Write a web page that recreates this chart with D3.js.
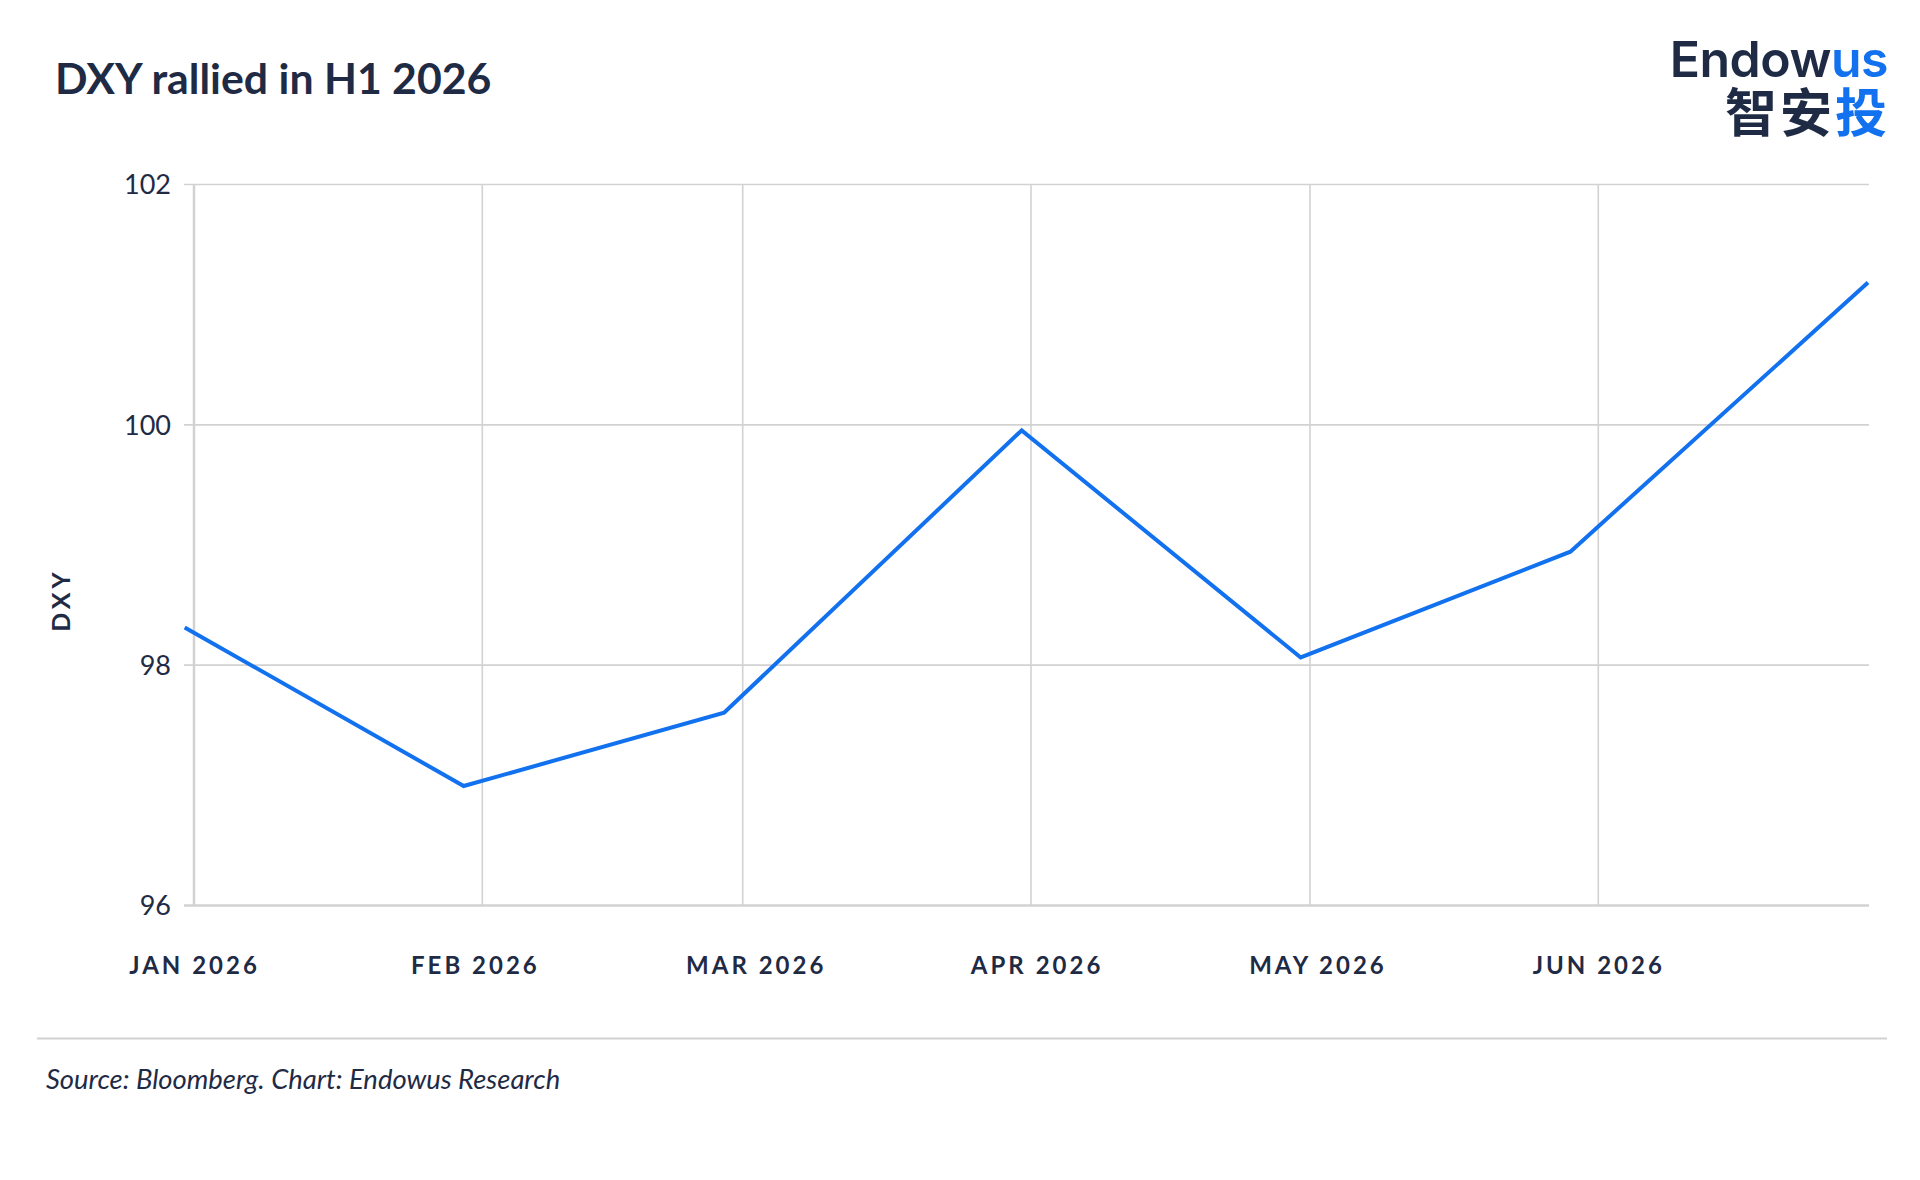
<!DOCTYPE html>
<html>
<head>
<meta charset="utf-8">
<script src="https://cdn.jsdelivr.net/npm/d3@7"></script>
<style>
  body { margin: 0; background: #fff; }
  svg text { fill: #1f2b45; }
</style>
</head>
<body>
<svg id="chart" width="1920" height="1180"></svg>
<script>
// month-end DXY closes
var dates = ["2025-12-31", "2026-01-30", "2026-02-27", "2026-03-31", "2026-04-30", "2026-05-29", "2026-06-30"];
var dxy = [98.31, 96.99, 97.60, 99.95, 98.06, 98.94, 101.18];

var monthLabels = ["JAN 2026", "FEB 2026", "MAR 2026", "APR 2026", "MAY 2026", "JUN 2026"];
var yTicks = [96, 98, 100, 102];
var xDomain = ["2026-01-01", "2026-06-30"];

var parse = d3.utcParse("%Y-%m-%d");
var font = "Lato, 'Noto Sans', sans-serif";
var ink = "#1f2b45";
var blue = "#1271ee";
var grid = "#d2d2d2";

var plot = { left: 194, right: 1868, top: 184, bottom: 905 };

var svg = d3.select("#chart");

var x = d3.scaleUtc()
    .domain(xDomain.map(parse))
    .range([plot.left, plot.right]);

var y = d3.scaleLinear()
    .domain([d3.min(yTicks), d3.max(yTicks)])
    .range([plot.bottom, plot.top]);

// labels are spread evenly between Jan 1 and Jun 1
var xLabel = d3.scalePoint()
    .domain(monthLabels)
    .range([x(parse("2026-01-01")), x(parse("2026-06-01"))]);

// title
svg.append("text")
    .attr("x", 55)
    .attr("y", 94)
    .attr("font-family", font)
    .attr("font-weight", 700)
    .attr("font-size", 42.8)
    .text("DXY rallied in H1 2026");

// logo
var logo = svg.append("g");
var word = logo.append("text")
    .attr("x", 1888)
    .attr("y", 77)
    .attr("text-anchor", "end")
    .attr("font-family", "Inter, Lato, sans-serif")
    .attr("font-weight", 600)
    .attr("font-size", 50)
    .attr("letter-spacing", -0.5)
    .text("Endow");
word.append("tspan").attr("fill", blue).text("us");

var cjk = logo.append("text")
    .attr("x", 1890)
    .attr("y", 132)
    .attr("text-anchor", "end")
    .attr("font-family", "'Noto Sans CJK SC', sans-serif")
    .attr("font-weight", 700)
    .attr("font-size", 52)
    .attr("letter-spacing", 3)
    .text("智安");
cjk.append("tspan").attr("fill", blue).text("投");

// horizontal grid + y labels
var yAxis = svg.append("g")
    .attr("transform", "translate(" + (plot.left - 10) + ",0)")
    .call(d3.axisLeft(y)
        .tickValues(yTicks)
        .tickFormat(d3.format("d"))
        .tickSize(-(plot.right + 1 - (plot.left - 10)))
        .tickPadding(13));

yAxis.select(".domain").remove();
yAxis.selectAll(".tick line")
    .attr("stroke", grid)
    .attr("stroke-width", function (d) { return d === 96 ? 2.5 : 1.6; });
yAxis.selectAll(".tick text")
    .attr("font-family", font)
    .attr("font-size", 27)
    .attr("fill", ink)
    .attr("dy", "0.36em");

// vertical grid at month starts
var monthStarts = d3.utcMonth.range(parse("2026-02-01"), parse("2026-07-01"));
svg.append("g")
    .selectAll("line")
    .data(monthStarts)
    .join("line")
    .attr("x1", function (d) { return x(d); })
    .attr("x2", function (d) { return x(d); })
    .attr("y1", y(102))
    .attr("y2", y(96))
    .attr("stroke", grid)
    .attr("stroke-width", 1.6);

// y axis line
svg.append("line")
    .attr("x1", plot.left)
    .attr("x2", plot.left)
    .attr("y1", y(102))
    .attr("y2", y(96))
    .attr("stroke", grid)
    .attr("stroke-width", 2.5);

// x labels
var xAxis = svg.append("g")
    .attr("transform", "translate(0," + plot.bottom + ")")
    .call(d3.axisBottom(xLabel).tickSize(0).tickPadding(0));

xAxis.select(".domain").remove();
xAxis.selectAll(".tick text")
    .attr("font-family", font)
    .attr("font-weight", 700)
    .attr("font-size", 24)
    .attr("letter-spacing", 3)
    .attr("fill", ink)
    .attr("y", 69)
    .attr("dy", 0);

// y axis title
svg.append("text")
    .attr("transform", "translate(70,600) rotate(-90)")
    .attr("text-anchor", "middle")
    .attr("font-family", font)
    .attr("font-weight", 700)
    .attr("font-size", 25)
    .attr("letter-spacing", 4)
    .text("DXY");

// the series
var points = dates.map(function (d, i) {
    return { date: parse(d), value: dxy[i] };
});

var line = d3.line()
    .x(function (d) { return x(d.date); })
    .y(function (d) { return y(d.value); });

svg.append("path")
    .datum(points)
    .attr("fill", "none")
    .attr("stroke", blue)
    .attr("stroke-width", 4)
    .attr("d", line);

// footer
svg.append("line")
    .attr("x1", 37)
    .attr("x2", 1887)
    .attr("y1", 1038.5)
    .attr("y2", 1038.5)
    .attr("stroke", grid)
    .attr("stroke-width", 2);

svg.append("text")
    .attr("x", 46)
    .attr("y", 1089)
    .attr("font-family", font)
    .attr("font-style", "italic")
    .attr("font-size", 27.4)
    .text("Source: Bloomberg. Chart: Endowus Research");
</script>
</body>
</html>
